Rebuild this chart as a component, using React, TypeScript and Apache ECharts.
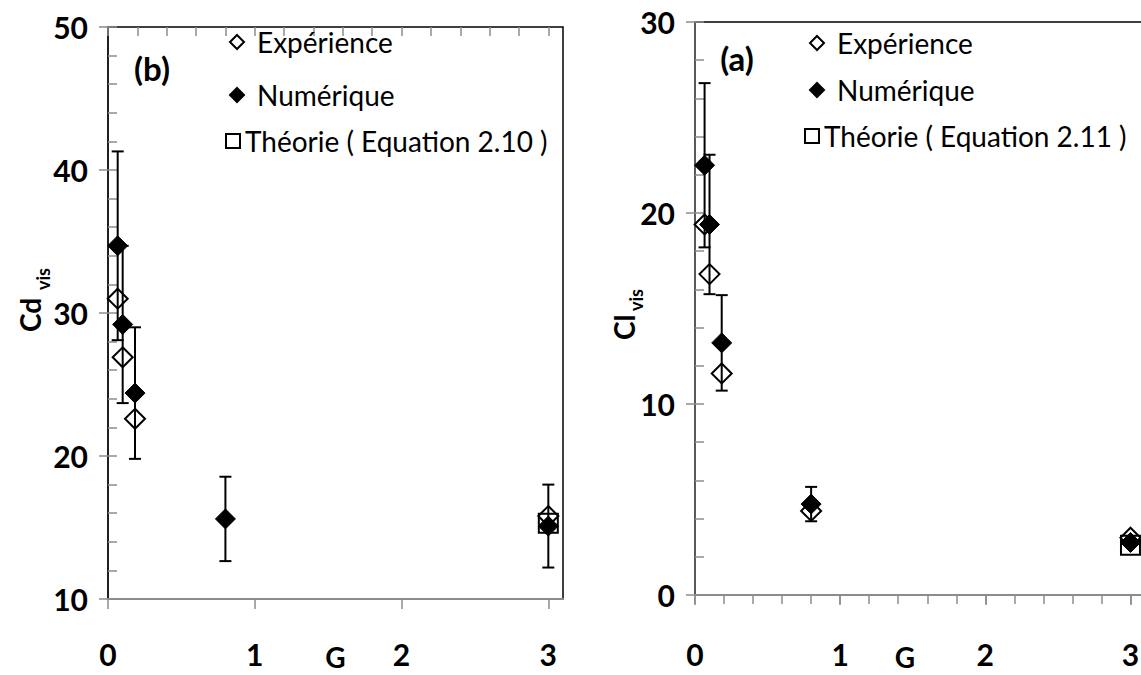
import React, { useEffect, useRef } from "react";
import * as echarts from "echarts";

// ---- Data: left chart (b) Cd_vis vs G ----
const expG_b = [0.066, 0.1, 0.184, 3.0];
const expCd = [31.0, 26.9, 22.6, 15.8];
const numG_b = [0.066, 0.1, 0.184, 0.8, 3.0];
const numCd = [34.7, 29.2, 24.4, 15.6, 15.1];
const numCdErr = [6.6, 5.5, 4.6, 2.95, 2.9];
const theoG_b = [3.0];
const theoCd = [15.3];

// ---- Data: right chart (a) Cl_vis vs G ----
const expG_a = [0.066, 0.1, 0.184, 0.8, 3.0];
const expCl = [19.4, 16.8, 11.6, 4.4, 3.0];
const numG_a = [0.066, 0.1, 0.184, 0.8, 3.0];
const numCl = [22.5, 19.4, 13.2, 4.76, 2.75];
const numClErr = [4.3, 3.65, 2.5, 0.9, 0];
const theoG_a = [3.0];
const theoCl = [2.6];

// ---- Ticks ----
const xMajorTicks = [0, 1, 2, 3];
const xMinorTicks = [0, 0.2, 0.4, 0.6, 0.8, 1, 1.2, 1.4, 1.6, 1.8, 2, 2.2, 2.4, 2.6, 2.8, 3];
const yMajorTicks_b = [10, 20, 30, 40, 50];
const yMinorTicks_b = [10, 12, 14, 16, 18, 20, 22, 24, 26, 28, 30, 32, 34, 36, 38, 40, 42, 44, 46, 48, 50];
const yMajorTicks_a = [0, 10, 20, 30];
const yMinorTicks_a = [0, 2, 4, 6, 8, 10, 12, 14, 16, 18, 20, 22, 24, 26, 28, 30];

const xName = "G";
const legendExp = "Expérience";
const legendNum = "Numérique";
const legendTheo_b = "Théorie ( Equation 2.10 )";
const legendTheo_a = "Théorie ( Equation 2.11 )";

const FONT = "Lato";
const TICK = "#8c8c8c";

function zip(a: number[], b: number[]) {
  return a.map((v, i) => [v, b[i]]);
}
function zip3(a: number[], b: number[], c: number[]) {
  return a.map((v, i) => [v, b[i], c[i]]);
}

function majorX(gridIndex: number, labelMargin: number, nameGap: number, namePadRight: number) {
  return {
    type: "value",
    gridIndex,
    min: 0,
    max: 3.1,
    name: xName,
    nameLocation: "middle",
    nameGap,
    nameMoveOverlap: false,
    nameTextStyle: { fontFamily: FONT, fontWeight: "bold", fontSize: 28, color: "#000", padding: [0, namePadRight, 0, 0] },
    axisLine: { show: true, onZero: false, lineStyle: { color: TICK, width: 2 } },
    axisTick: { show: true, inside: false, length: 10, customValues: xMajorTicks, lineStyle: { color: TICK, width: 1.5 } },
    axisLabel: {
      show: true,
      customValues: xMajorTicks,
      margin: labelMargin,
      fontFamily: FONT,
      fontWeight: "bold",
      fontSize: 30,
      color: "#000",
    },
    splitLine: { show: false },
  };
}
function minorX(gridIndex: number) {
  return {
    type: "value",
    gridIndex,
    min: 0,
    max: 3.1,
    axisLine: { show: false },
    axisTick: { show: true, inside: true, length: 9, customValues: xMinorTicks, lineStyle: { color: TICK, width: 1.5 } },
    axisLabel: { show: false },
    splitLine: { show: false },
  };
}
function majorY(gridIndex: number, min: number, max: number, ticks: number[], lineColor: string) {
  return {
    type: "value",
    gridIndex,
    position: "left",
    min,
    max,
    axisLine: { show: true, onZero: false, lineStyle: { color: lineColor, width: 2 } },
    axisTick: { show: true, inside: false, length: 9, customValues: ticks, lineStyle: { color: TICK, width: 1.5 } },
    axisLabel: {
      show: true,
      customValues: ticks,
      margin: 20,
      fontFamily: FONT,
      fontWeight: "bold",
      fontSize: 30,
      color: "#000",
    },
    splitLine: { show: false },
  };
}
function minorY(gridIndex: number, min: number, max: number, ticks: number[]) {
  return {
    type: "value",
    gridIndex,
    position: "left",
    min,
    max,
    axisLine: { show: false },
    axisTick: { show: true, inside: true, length: 9, customValues: ticks, lineStyle: { color: TICK, width: 1.5 } },
    axisLabel: { show: false },
    splitLine: { show: false },
  };
}

const openDiamond = { color: "rgba(255,255,255,0)", borderColor: "#000", borderWidth: 2, opacity: 1 };
const filledDiamond = { color: "#000", borderColor: "#000", borderWidth: 1, opacity: 1 };
const openSquare = { color: "rgba(255,255,255,0)", borderColor: "#000", borderWidth: 2, opacity: 1 };

function errorSeries(xi: number, yi: number, data: number[][]) {
  return {
    type: "custom",
    xAxisIndex: xi,
    yAxisIndex: yi,
    encode: { x: 0, y: 1 },
    silent: true,
    z: 3,
    data,
    renderItem: (params: any, api: any) => {
      const x = api.value(0);
      const y = api.value(1);
      const e = api.value(2);
      const top = api.coord([x, y + e]);
      const bot = api.coord([x, y - e]);
      const hw = 6;
      const st = { stroke: "#000", lineWidth: 2 };
      return {
        type: "group",
        children: [
          { type: "line", shape: { x1: top[0], y1: top[1], x2: bot[0], y2: bot[1] }, style: st },
          { type: "line", shape: { x1: top[0] - hw, y1: top[1], x2: top[0] + hw, y2: top[1] }, style: st },
          { type: "line", shape: { x1: bot[0] - hw, y1: bot[1], x2: bot[0] + hw, y2: bot[1] }, style: st },
        ],
      };
    },
  };
}

function legendItem(name: string, icon: string, left: number, top: number, padLeft: number) {
  return {
    data: [{ name, icon }],
    left,
    top,
    padding: 0,
    orient: "vertical",
    itemWidth: 14,
    itemHeight: 14,
    selectedMode: false,
    textStyle: { fontFamily: FONT, fontSize: 28, lineHeight: 30, color: "#000", padding: [0, 0, 0, padLeft] },
  };
}

export default function App() {
  const ref = useRef<HTMLDivElement>(null);
  useEffect(() => {
    if (!ref.current) return;
    const chart = echarts.init(ref.current, undefined, { renderer: "svg" });
    const option: any = {
      animation: false,
      backgroundColor: "#fff",
      textStyle: { fontFamily: FONT },
      grid: [
        { left: 108, top: 27, width: 455, height: 572, show: true, borderColor: "#000", borderWidth: 1.5, backgroundColor: "transparent", outerBoundsMode: "none", containLabel: false },
        { left: 695, top: 22, width: 450, height: 573, show: true, borderColor: "#000", borderWidth: 1.5, backgroundColor: "transparent", outerBoundsMode: "none", containLabel: false },
      ],
      xAxis: [majorX(0, 40, 44, 0), minorX(0), majorX(1, 44, 48, 30), minorX(1)],
      yAxis: [
        majorY(0, 10, 50, yMajorTicks_b, "#202020"),
        minorY(0, 10, 50, yMinorTicks_b),
        majorY(1, 0, 30, yMajorTicks_a, "#595959"),
        minorY(1, 0, 30, yMinorTicks_a),
      ],
      legend: [
        legendItem(legendExp, "diamond", 229, 27, 8),
        legendItem(legendNum, "diamond", 229, 80, 8),
        legendItem(legendTheo_b, "rect", 225, 126, 0),
        legendItem(legendExp, "diamond", 809, 28, 8),
        legendItem(legendNum, "diamond", 809, 75, 8),
        legendItem(legendTheo_a, "rect", 804, 121, 0),
      ],
      series: [
        errorSeries(0, 0, zip3(numG_b, numCd, numCdErr)),
        { name: legendTheo_b, type: "scatter", xAxisIndex: 0, yAxisIndex: 0, symbol: "rect", symbolSize: 19, itemStyle: openSquare, z: 4, data: zip(theoG_b, theoCd) },
        { name: legendExp, type: "scatter", xAxisIndex: 0, yAxisIndex: 0, symbol: "diamond", symbolSize: 20, itemStyle: openDiamond, z: 5, data: zip(expG_b, expCd) },
        { name: legendNum, type: "scatter", xAxisIndex: 0, yAxisIndex: 0, symbol: "diamond", symbolSize: 20, itemStyle: filledDiamond, z: 6, data: zip(numG_b, numCd) },
        errorSeries(2, 2, zip3(numG_a, numCl, numClErr)),
        { name: legendTheo_a, type: "scatter", xAxisIndex: 2, yAxisIndex: 2, symbol: "rect", symbolSize: 19, itemStyle: openSquare, z: 4, data: zip(theoG_a, theoCl) },
        { name: legendExp, type: "scatter", xAxisIndex: 2, yAxisIndex: 2, symbol: "diamond", symbolSize: 20, itemStyle: openDiamond, z: 5, data: zip(expG_a, expCl) },
        { name: legendNum, type: "scatter", xAxisIndex: 2, yAxisIndex: 2, symbol: "diamond", symbolSize: 20, itemStyle: filledDiamond, z: 6, data: zip(numG_a, numCl) },
      ],
      graphic: [
        { type: "text", x: 152, y: 68, style: { text: "(b)", font: `bold 33px ${FONT}`, fill: "#000", align: "center", verticalAlign: "middle" } },
        { type: "text", x: 737, y: 58, style: { text: "(a)", font: `bold 33px ${FONT}`, fill: "#000", align: "center", verticalAlign: "middle" } },
        { type: "text", x: 30, y: 332, rotation: Math.PI / 2, style: { text: "Cd", font: `bold 28px ${FONT}`, fill: "#000", align: "left", verticalAlign: "middle" } },
        { type: "text", x: 43, y: 290, rotation: Math.PI / 2, style: { text: "vis", font: `bold 18px ${FONT}`, fill: "#000", align: "left", verticalAlign: "middle" } },
        { type: "text", x: 624, y: 340, rotation: Math.PI / 2, style: { text: "Cl", font: `bold 28px ${FONT}`, fill: "#000", align: "left", verticalAlign: "middle" } },
        { type: "text", x: 636, y: 311, rotation: Math.PI / 2, style: { text: "vis", font: `bold 18px ${FONT}`, fill: "#000", align: "left", verticalAlign: "middle" } },
      ],
    };
    chart.setOption(option);
    return () => chart.dispose();
  }, []);
  return (
    <div
      ref={ref}
      style={{ position: "absolute", left: 0, top: 0, width: 1141, height: 675, background: "#fff", overflow: "hidden" }}
    />
  );
}
